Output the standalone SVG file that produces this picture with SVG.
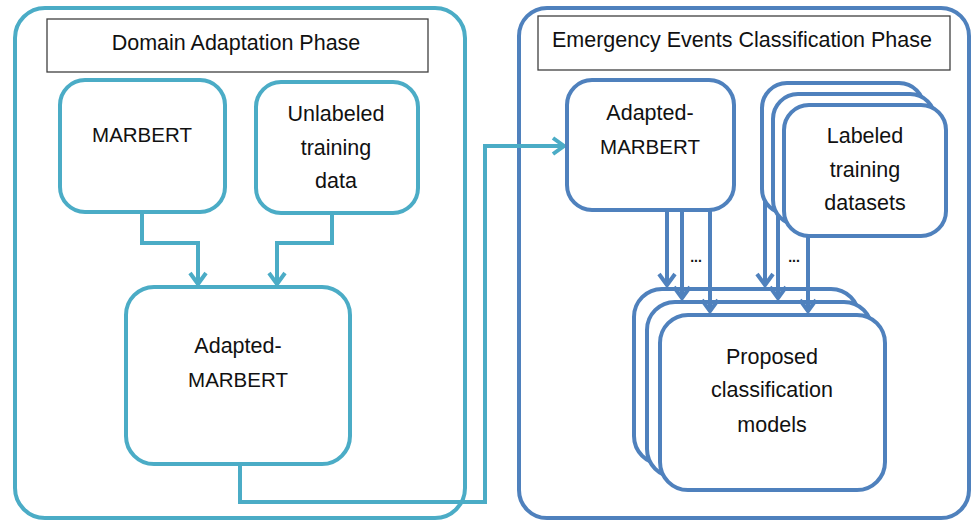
<svg xmlns="http://www.w3.org/2000/svg" width="972" height="521" viewBox="0 0 972 521">
  <style>
    .teal { fill: #ffffff; stroke: #4BACC6; stroke-width: 4; }
    .blue { fill: #ffffff; stroke: #4F81BD; stroke-width: 4; }
    .title { fill: #ffffff; stroke: #404040; stroke-width: 1.3; }
    .lbl { font-family: "Liberation Sans", Arial, sans-serif; font-size: 21.5px; fill: #111111; text-anchor: middle; }
    .caps { font-size: 20.5px; }
    .dots { font-family: "Liberation Sans", Arial, sans-serif; font-size: 14px; font-weight: bold; fill: #111111; text-anchor: middle; }
    .ct { fill: none; stroke: #4BACC6; stroke-width: 4; }
    .cb { fill: none; stroke: #4F81BD; stroke-width: 4; }
  </style>
  <defs>
    <marker id="aT" viewBox="-16 -12 20 24" refX="0" refY="0" markerWidth="20" markerHeight="24" markerUnits="userSpaceOnUse" orient="auto">
      <path d="M-11,-8 L0,0 L-11,8" fill="none" stroke="#4BACC6" stroke-width="4"/>
    </marker>
    <marker id="aB" viewBox="-16 -12 20 24" refX="0" refY="0" markerWidth="20" markerHeight="24" markerUnits="userSpaceOnUse" orient="auto">
      <path d="M-11,-8 L0,0 L-11,8" fill="none" stroke="#4F81BD" stroke-width="4"/>
    </marker>
  </defs>

  <g id="domain-phase">
    <rect class="teal" x="15" y="8" width="450" height="510" rx="30"/>
    <rect class="title" x="47" y="19" width="381" height="53"/>
    <text class="lbl" x="236" y="50">Domain Adaptation Phase</text>
  </g>
  <g id="classification-phase">
    <rect class="blue" x="519" y="8" width="450" height="510" rx="28"/>
    <rect class="title" x="538" y="16" width="412" height="54"/>
    <text class="lbl" x="742" y="47">Emergency Events Classification Phase</text>
  </g>

  <g id="marbert">
    <rect class="teal" x="60" y="80" width="165" height="132" rx="25"/>
    <text class="lbl caps" x="142" y="142">MARBERT</text>
  </g>
  <g id="unlabeled">
    <rect class="teal" x="256" y="82" width="162" height="131" rx="25"/>
    <text class="lbl" x="336" y="121">Unlabeled</text>
    <text class="lbl" x="336" y="155">training</text>
    <text class="lbl" x="336" y="188">data</text>
  </g>
  <g id="adapted-left">
    <rect class="teal" x="126" y="287" width="224" height="177" rx="28"/>
    <text class="lbl" x="238" y="353">Adapted-</text>
    <text class="lbl caps" x="238" y="387">MARBERT</text>
  </g>

  <g id="proposed">
    <rect class="blue" x="634" y="289" width="225" height="175" rx="28"/>
    <rect class="blue" x="647" y="302" width="225" height="175" rx="28"/>
    <rect class="blue" x="660" y="315" width="225" height="175" rx="28"/>
    <text class="lbl" x="772" y="364">Proposed</text>
    <text class="lbl" x="772" y="397">classification</text>
    <text class="lbl" x="772" y="432">models</text>
  </g>

  <g id="connectors">
    <path class="ct" d="M142,212 V243 H198 V284" marker-end="url(#aT)"/>
    <path class="ct" d="M332,213 V243 H277 V284" marker-end="url(#aT)"/>
    <path class="ct" d="M240,464 V502 H485 V146 H564" marker-end="url(#aT)"/>
    <path class="cb" d="M667,205 V285" marker-end="url(#aB)"/>
    <path class="cb" d="M682,205 V298" marker-end="url(#aB)"/>
    <path class="cb" d="M710,205 V311" marker-end="url(#aB)"/>
    <path class="cb" d="M765,195 V285" marker-end="url(#aB)"/>
    <path class="cb" d="M778,195 V298" marker-end="url(#aB)"/>
    <path class="cb" d="M808,195 V311" marker-end="url(#aB)"/>
    <text class="dots" x="696" y="262">...</text>
    <text class="dots" x="794" y="262">...</text>
  </g>

  <g id="adapted-right">
    <rect class="blue" x="567" y="80" width="167" height="130" rx="25"/>
    <text class="lbl" x="650" y="120">Adapted-</text>
    <text class="lbl caps" x="650" y="154">MARBERT</text>
  </g>
  <g id="labeled">
    <rect class="blue" x="762" y="83" width="162" height="131" rx="25"/>
    <rect class="blue" x="773" y="94" width="162" height="131" rx="25"/>
    <rect class="blue" x="784" y="105" width="162" height="131" rx="25"/>
    <text class="lbl" x="865" y="143">Labeled</text>
    <text class="lbl" x="865" y="177">training</text>
    <text class="lbl" x="865" y="210">datasets</text>
  </g>
</svg>
